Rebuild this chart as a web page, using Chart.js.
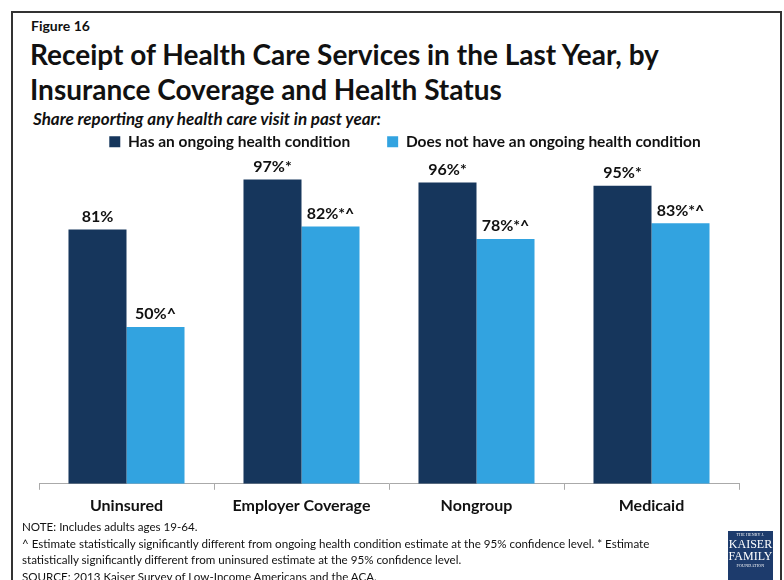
<!DOCTYPE html>
<html>
<head>
<meta charset="utf-8">
<script src="https://cdn.jsdelivr.net/npm/chart.js@4.4.0/dist/chart.umd.min.js"></script>
<style>
  html, body { margin: 0; padding: 0; background: #fff; }
  body { width: 784px; height: 580px; position: relative; overflow: hidden;
         font-family: Lato, "Open Sans", sans-serif; color: #111; }
  #frame { position: absolute; left: 11px; top: 11px; width: 771px; height: 620px;
           border: 2px solid #333; box-sizing: border-box; }
  .txt { position: absolute; white-space: nowrap; }
  #fig { left: 31px; top: 19px; font-size: 14px; font-weight: bold; line-height: 14px; }
  .ttl { left: 30px; font-size: 28px; font-weight: bold; line-height: 28px; }
  #sub { left: 33px; top: 110px; font-size: 17px; font-weight: bold; font-style: italic; line-height: 17px; }
  #notes { left: 22px; top: 519px; font-size: 11.6px; line-height: 16.5px; }
  #chart { position: absolute; left: 13px; top: 97px; }
  #logo { position: absolute; left: 728px; top: 531px; width: 45px; height: 60px; background: #1d3b6c;
          color: #fff; font-family: "Liberation Serif", serif; text-align: center; }
  #logo .s { font-size: 4px; line-height: 7px; letter-spacing: 0.2px; }
  #logo .b { font-size: 12px; line-height: 12px; }
</style>
</head>
<body>
<div id="frame"></div>
<div class="txt" id="fig">Figure 16</div>
<div class="txt ttl" style="top:40px">Receipt of Health Care Services in the Last Year, by</div>
<div class="txt ttl" style="top:75px">Insurance Coverage and Health Status</div>
<div class="txt" id="sub">Share reporting any health care visit in past year:</div>
<canvas id="chart" width="784" height="424"></canvas>
<div class="txt" id="notes">NOTE: Includes adults ages 19-64.<br>^ Estimate statistically significantly different from ongoing health condition estimate at the 95% confidence level. * Estimate<br>statistically significantly different from uninsured estimate at the 95% confidence level.<br>SOURCE: 2013 Kaiser Survey of Low-Income Americans and the ACA.</div>
<div id="logo"><div class="s">THE HENRY J.</div><div class="b">KAISER</div><div class="b">FAMILY</div><div class="s">FOUNDATION</div></div>
<script>
// groups and series
var categories = ['Uninsured', 'Employer Coverage', 'Nongroup', 'Medicaid'];
var seriesNames = ['Has an ongoing health condition', 'Does not have an ongoing health condition'];
var withCondition = [81, 97, 96, 95];
var withoutCondition = [50, 82, 78, 83];
var withLabels = ['81%', '97%*', '96%*', '95%*'];
var withoutLabels = ['50%^', '82%*^', '78%*^', '83%*^'];

var fam = 'Lato, "Open Sans", sans-serif';

// value text above each bar
var barLabels = {
  id: 'barLabels',
  afterDatasetsDraw: function(chart) {
    var ctx = chart.ctx;
    ctx.save();
    ctx.font = 'bold 16px ' + fam;
    ctx.fillStyle = '#111';
    ctx.textAlign = 'center';
    ctx.textBaseline = 'bottom';
    chart.data.datasets.forEach(function(ds, i) {
      chart.getDatasetMeta(i).data.forEach(function(bar, j) {
        ctx.fillText(ds.valueLabels[j], bar.x, bar.y - 5);
      });
    });
    ctx.restore();
  }
};

// leave more room between the legend row and the bars
var legendGap = {
  id: 'legendGap',
  beforeInit: function(chart) {
    var fit = chart.legend.fit;
    chart.legend.fit = function() {
      fit.call(this);
      this.height = 73;
    };
  }
};

var ctx = document.getElementById('chart').getContext('2d');
var chart = new Chart(ctx, {
  type: 'bar',
  data: {
    labels: categories,
    datasets: [{
      label: seriesNames[0],
      data: withCondition,
      valueLabels: withLabels,
      backgroundColor: '#16365c'
    }, {
      label: seriesNames[1],
      data: withoutCondition,
      valueLabels: withoutLabels,
      backgroundColor: '#32a3e0'
    }]
  },
  options: {
    responsive: false,
    animation: false,
    datasets: { bar: { categoryPercentage: 0.663, barPercentage: 1 } },
    plugins: {
      tooltip: { enabled: false },
      legend: {
        position: 'top',
        labels: {
          boxWidth: 11,
          boxHeight: 11,
          padding: 37,
          color: '#111',
          font: { family: fam, size: 15.5, weight: 'bold' }
        }
      }
    },
    scales: {
      x: {
        grid: { display: true, offset: true, drawOnChartArea: false, tickLength: 6, color: '#aaa' },
        border: { color: '#aaa', width: 1 },
        ticks: {
          padding: 6,
          color: '#111',
          font: { family: fam, size: 16, weight: 'bold' }
        }
      },
      y: {
        min: 0, max: 100,
        grid: { display: false },
        border: { display: false },
        ticks: { display: false },
        afterFit: function(s) { s.width = 26; }
      },
      yr: {
        position: 'right',
        min: 0, max: 100,
        grid: { display: false },
        border: { display: false },
        ticks: { display: false },
        afterFit: function(s) { s.width = 58; }
      }
    }
  },
  plugins: [barLabels, legendGap]
});
</script>
</body>
</html>
